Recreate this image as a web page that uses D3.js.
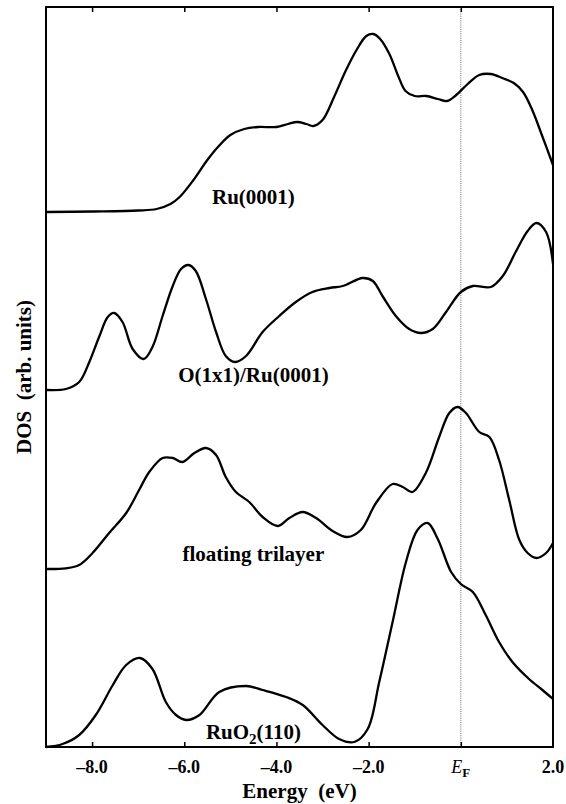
<!DOCTYPE html>
<html>
<head>
<meta charset="utf-8">
<script src="https://cdn.jsdelivr.net/npm/d3@7"></script>
<style>
  html, body { margin: 0; padding: 0; background: #fff; }
  svg { display: block; }
  text { font-family: "Liberation Serif", "Times New Roman", serif; font-weight: bold; fill: #000; }
</style>
</head>
<body>
<svg id="chart" width="566" height="804"></svg>
<script>
// ---------- data ----------
const seriesNames = ["Ru(0001)", "O(1x1)/Ru(0001)", "floating trilayer", "RuO2(110)"];
const seriesOffsets = [535, 357, 178, 0];   // vertical offsets (arb. units)

const tickValues = [-8, -6, -4, -2, 0, 2];
const tickLabels = ["\u20138.0", "\u20136.0", "\u20134.0", "\u20132.0", "EF", "2.0"];

// Ru(0001)
const ruE = [-9.0, -8.0, -7.0, -6.6, -6.3, -6.1, -5.8, -5.5, -5.25, -5.0, -4.7, -4.4, -4.0, -3.75, -3.55, -3.35, -3.2, -3.0, -2.75, -2.5, -2.25, -2.05, -1.9, -1.75, -1.55, -1.35, -1.2, -1.0, -0.75, -0.5, -0.3, -0.1, 0.15, 0.4, 0.65, 0.9, 1.15, 1.35, 1.55, 1.75, 2.0];
const ruV = [0, 0.5, 1.5, 3, 8, 15, 32, 52, 66, 77, 83, 85, 85, 88, 90, 88, 86, 92, 115, 141, 163, 176, 178, 173, 158, 135, 121, 116, 116, 113, 111, 117, 128, 137, 138, 134, 129, 120, 102, 78, 47];

// O(1x1)/Ru(0001)
const oE = [-9.0, -8.57, -8.28, -8.06, -7.84, -7.66, -7.52, -7.34, -7.12, -6.88, -6.69, -6.47, -6.25, -6.07, -5.91, -5.75, -5.53, -5.31, -5.10, -4.90, -4.66, -4.30, -3.94, -3.58, -3.22, -2.85, -2.56, -2.13, -1.91, -1.70, -1.41, -1.12, -0.87, -0.61, -0.32, 0.0, 0.26, 0.65, 0.91, 1.19, 1.45, 1.64, 1.85, 2.0];
const oV = [0, 1, 8, 28, 54, 73, 77, 68, 41, 31, 43, 74, 104, 121, 125, 119, 91, 58, 34, 28, 34, 58, 74, 88, 98, 102, 104, 112, 109, 94, 74, 61, 57, 61, 78, 98, 104, 103, 114, 138, 159, 167, 158, 126];

// floating trilayer
const trE = [-9.0, -8.57, -8.28, -7.99, -7.63, -7.26, -6.98, -6.76, -6.47, -6.25, -6.04, -5.78, -5.53, -5.31, -5.10, -4.88, -4.59, -4.30, -3.97, -3.72, -3.43, -3.14, -2.78, -2.46, -2.17, -1.84, -1.48, -1.26, -1.05, -0.76, -0.47, -0.25, -0.07, 0.11, 0.40, 0.62, 0.83, 1.05, 1.27, 1.45, 1.64, 1.85, 2.0];
const trV = [0, 0.7, 4, 16, 36, 56, 79, 97, 111, 111, 107, 116, 121, 114, 92, 77, 67, 52, 43, 51, 57, 51, 38, 32, 39, 66, 85, 82, 77, 96, 132, 156, 162, 156, 137, 132, 109, 69, 29, 16, 11, 16, 26];

// RuO2(110)
const rbE = [-9.0, -8.64, -8.28, -7.92, -7.55, -7.26, -6.96, -6.69, -6.40, -6.18, -5.96, -5.67, -5.24, -4.66, -4.30, -3.79, -3.43, -3.0, -2.64, -2.31, -2.02, -1.77, -1.48, -1.19, -0.94, -0.72, -0.50, -0.21, 0.0, 0.26, 0.54, 0.83, 1.12, 1.48, 1.77, 2.0];
const rbV = [0, 3, 12, 32, 62, 82, 89, 78, 45, 32, 27, 32, 55, 61, 57, 50, 42, 22, 8, 5, 18, 65, 125, 185, 217, 224, 208, 175, 163, 155, 132, 105, 85, 68, 57, 48];

const seriesE = [ruE, oE, trE, rbE];
const seriesV = [ruV, oV, trV, rbV];

// ---------- layout ----------
const svg = d3.select("#chart");
const L = 46, R = 553, T = 7, B = 747;

const x = d3.scaleLinear().domain([-9, 2]).range([L, R]);
const y = d3.scaleLinear().domain([0, 740]).range([B, T]);

// dotted Fermi level line
svg.append("line")
  .attr("x1", x(0)).attr("x2", x(0))
  .attr("y1", T).attr("y2", B)
  .attr("stroke", "#444").attr("stroke-width", 0.8)
  .attr("stroke-dasharray", "1,1.2");

// curves
const line = d3.line()
  .x(d => x(d[0]))
  .y(d => y(d[1]))
  .curve(d3.curveCatmullRom.alpha(0.5));

seriesNames.forEach((name, i) => {
  const pts = seriesE[i].map((e, j) => [e, seriesV[i][j] + seriesOffsets[i]]);
  svg.append("path")
    .datum(pts)
    .attr("d", line)
    .attr("fill", "none")
    .attr("stroke", "#000")
    .attr("stroke-width", 2.3)
    .attr("stroke-linejoin", "round");
});

// series labels
const labelE = -4.5;
seriesNames.forEach((name, i) => {
  const t = svg.append("text")
    .attr("x", x(labelE))
    .attr("y", y(seriesOffsets[i]) - 8)
    .attr("text-anchor", "middle")
    .attr("font-size", 21);
  if (name === "RuO2(110)") {
    t.append("tspan").text("RuO");
    t.append("tspan").attr("font-size", 15).attr("dy", 5).text("2");
    t.append("tspan").attr("dy", -5).text("(110)");
  } else {
    t.text(name);
  }
});

// frame
svg.append("rect")
  .attr("x", L).attr("y", T)
  .attr("width", R - L).attr("height", B - T)
  .attr("fill", "none").attr("stroke", "#000").attr("stroke-width", 2);

// bottom axis (ticks inward)
const xAxisB = d3.axisBottom(x).tickValues(tickValues.slice(0, 5)).tickSize(-5).tickFormat("");
const gB = svg.append("g").attr("transform", `translate(0,${B})`).call(xAxisB);
gB.select(".domain").remove();
gB.selectAll(".tick line").attr("stroke", "#000").attr("stroke-width", 1.5);

const xAxisT = d3.axisTop(x).tickValues(tickValues.slice(0, 5)).tickSize(-5).tickFormat("");
const gT = svg.append("g").attr("transform", `translate(0,${T})`).call(xAxisT);
gT.select(".domain").remove();
gT.selectAll(".tick line").attr("stroke", "#000").attr("stroke-width", 1.5);

// tick labels
tickValues.forEach((v, i) => {
  const t = svg.append("text")
    .attr("x", x(v))
    .attr("y", 773)
    .attr("text-anchor", "middle")
    .attr("font-size", 18);
  if (tickLabels[i] === "EF") {
    t.append("tspan").attr("font-style", "italic").attr("font-weight", "normal").text("E");
    t.append("tspan").attr("font-size", 13).attr("dy", 4).text("F");
  } else {
    t.text(tickLabels[i]);
  }
});

// axis titles
svg.append("text")
  .attr("x", (L + R) / 2)
  .attr("y", 798)
  .attr("text-anchor", "middle")
  .attr("font-size", 21)
  .attr("xml:space", "preserve")
  .text("Energy  (eV)");

svg.append("text")
  .attr("transform", `translate(31,${(T + B) / 2}) rotate(-90)`)
  .attr("text-anchor", "middle")
  .attr("font-size", 21)
  .attr("xml:space", "preserve")
  .text("DOS  (arb. units)");
</script>
</body>
</html>
